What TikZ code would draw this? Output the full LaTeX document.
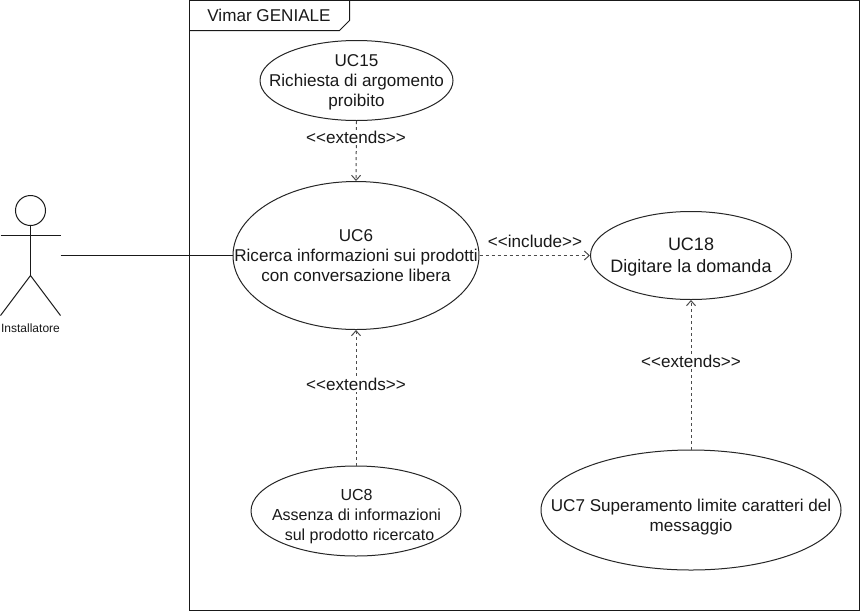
\documentclass[tikz,border=0pt]{standalone}
\usepackage{fontspec}
\setmainfont{Liberation Sans}
\usetikzlibrary{arrows.meta,shapes.geometric}
\tikzset{
  x=1pt,y=-1pt,
  usecase/.style={draw=black!85,line width=1pt,ellipse,inner sep=0pt,minimum width=#1},
  uctext/.style={align=center,font=\fontsize{17.1}{20}\selectfont,text=black!90,inner sep=0pt},
  uctextsmall/.style={uctext,font=\fontsize{16}{20}\selectfont},
  uctextlarge/.style={uctext,font=\fontsize{18}{22}\selectfont},
  dep/.style={draw=black!70,line width=1pt,dash pattern=on 3pt off 3pt,-{Straight Barb[length=5pt,width=9pt,line width=1pt]}},
  deplabel/.style={font=\fontsize{17.1}{20}\selectfont,fill=white,inner sep=1pt,text=black!90},
  outl/.style={draw=black!90,line width=1pt},
}
\newcommand{\LL}{<{}<}
\newcommand{\RR}{>{}>}
\begin{document}
\begin{tikzpicture}
\useasboundingbox (0,0) rectangle (861,611);
\fill[white] (0,0) rectangle (861,611);
\draw[outl] (189.5,0.5) rectangle (859.5,610.5);
\draw[outl] (189.5,30.5) -- (339.5,30.5) -- (349.5,20.5) -- (349.5,0.5);
\node[uctext,anchor=center] (frametitle) at (269,15.5) {Vimar GENIALE};
% ellipses
\node[usecase=193pt,minimum height=80pt] (uc15) at (356.5,80.5) {};
\node[uctext] (uc15t) at (356.5,82) {UC15\\Richiesta di argomento\\proibito};
\node[usecase=246pt,minimum height=148pt] (uc6) at (356,255.5) {};
\node[uctext] (uc6t) at (356,255.5) {UC6\\Ricerca informazioni sui prodotti\\con conversazione libera};
\node[usecase=201pt,minimum height=88pt] (uc18) at (691,255.5) {};
\node[uctextlarge] (uc18t) at (691,257.5) {UC18\\Digitare la domanda};
\node[usecase=210pt,minimum height=90pt] (uc8) at (356,511) {};
\node[uctextsmall] (uc8t) at (356.5,517) {UC8\\Assenza di informazioni\\\hspace*{6pt}sul prodotto ricercato};
\node[usecase=300pt,minimum height=120pt] (uc7) at (691,510) {};
\node[uctext] (uc7t) at (691,517) {UC7 Superamento limite caratteri del\\messaggio};
% actor
\draw[outl] (30.5,210.5) circle (15);
\draw[outl] (30.5,225.5) -- (30.5,275.5);
\draw[outl] (0.5,235.5) -- (60.5,235.5);
\draw[outl] (0.5,315.5) -- (30.5,275.5) -- (60.5,315.5);
\node[font=\fontsize{12}{14}\selectfont,text=black!90] (actorlabel) at (30.5,328) {Installatore};
\coordinate (actor) at (60.5,255.5);
% connectors
\draw[outl] (actor) -- (uc6.west);
\draw[dep] (uc15.south) -- (uc6.north);
\draw[dep] (uc8.north) -- (uc6.south);
\draw[dep] (uc6.east) -- (uc18.west);
\draw[dep] (uc7.north) -- (uc18.south);
% labels
\node[deplabel] (l1) at (356,137) {\LL extends\RR};
\node[deplabel] (l2) at (356,384.5) {\LL extends\RR};
\node[deplabel] (l3) at (691,361.5) {\LL extends\RR};
\node[deplabel,fill=none] (l4) at (535,241.5) {\LL include\RR};
\end{tikzpicture}
\end{document}
